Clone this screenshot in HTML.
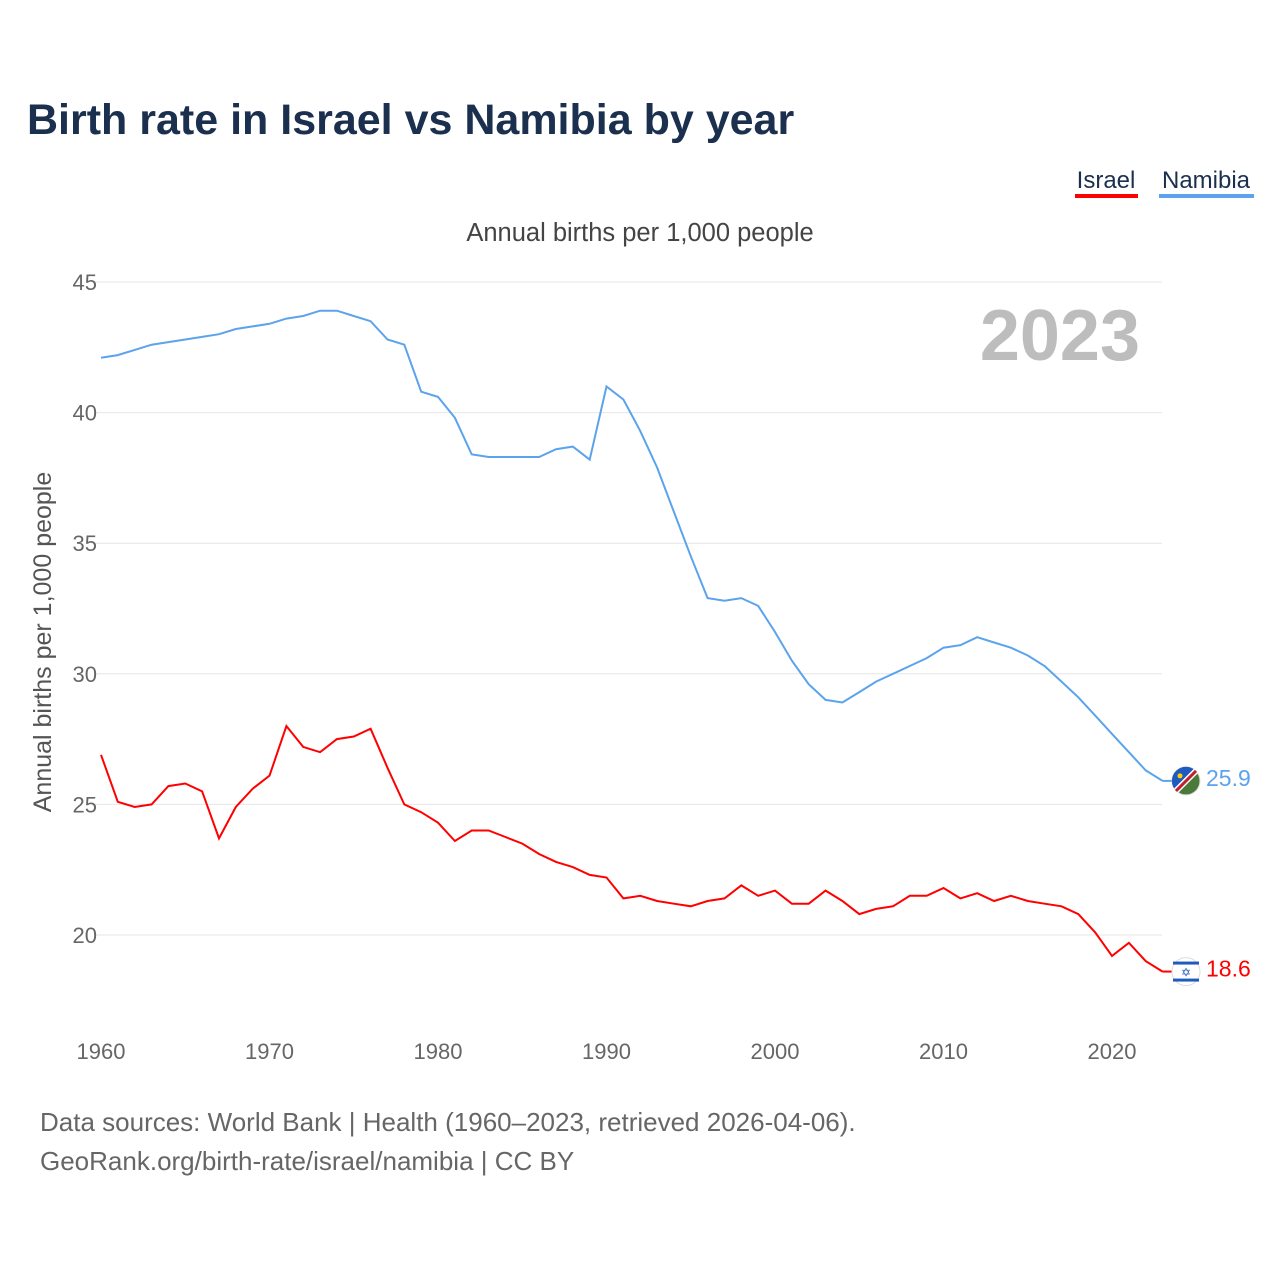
<!DOCTYPE html>
<html><head><meta charset="utf-8">
<style>
body{margin:0;background:#fff;font-family:"Liberation Sans",sans-serif;}
#wrap{position:relative;width:1280px;height:1280px;overflow:hidden;}
</style></head>
<body>
<div id="wrap">
<svg id="chart" width="1280" height="1280">
<text x="27" y="134" font-size="43" font-weight="bold" fill="#1b2f4e">Birth rate in Israel vs Namibia by year</text>
<g>
<text x="1106" y="188" font-size="24" fill="#1b2f4e" text-anchor="middle">Israel</text>
<rect x="1075" y="194" width="63" height="4" fill="#ff0000"/></g>
<g>
<text x="1206" y="188" font-size="24" fill="#1b2f4e" text-anchor="middle">Namibia</text>
<rect x="1159" y="194" width="95" height="4" fill="#5ba3ec"/></g>
<text x="640" y="241" font-size="25.5" fill="#444" text-anchor="middle">Annual births per 1,000 people</text>
<text x="1140" y="360" font-size="72" font-weight="bold" fill="#bdbdbd" text-anchor="end">2023</text>
<text transform="translate(51,642) rotate(-90)" font-size="25" fill="#555" text-anchor="middle">Annual births per 1,000 people</text>
<g id="grid"></g><g id="lines"></g><g id="labels"></g>
<text x="40" y="1131" font-size="26" fill="#666">Data sources: World Bank | Health (1960–2023, retrieved 2026-04-06).</text>
<text x="40" y="1170" font-size="26" fill="#666">GeoRank.org/birth-rate/israel/namibia | CC BY</text>
</svg>
</div>
<script>
const years=[];for(let y=1960;y<=2023;y++)years.push(y);
const israel=[26.9,25.1,24.9,25.0,25.7,25.8,25.5,23.7,24.9,25.6,26.1,28.0,27.2,27.0,27.5,27.6,27.9,26.4,25.0,24.7,24.3,23.6,24.0,24.0,23.75,23.5,23.1,22.8,22.6,22.3,22.2,21.4,21.5,21.3,21.2,21.1,21.3,21.4,21.9,21.5,21.7,21.2,21.2,21.7,21.3,20.8,21.0,21.1,21.5,21.5,21.8,21.4,21.6,21.3,21.5,21.3,21.2,21.1,20.8,20.1,19.2,19.7,19.0,18.6];
const namibia=[42.1,42.2,42.4,42.6,42.7,42.8,42.9,43.0,43.2,43.3,43.4,43.6,43.7,43.9,43.9,43.7,43.5,42.8,42.6,40.8,40.6,39.8,38.4,38.3,38.3,38.3,38.3,38.6,38.7,38.2,41.0,40.5,39.3,37.9,36.2,34.5,32.9,32.8,32.9,32.6,31.6,30.5,29.6,29.0,28.9,29.3,29.7,30.0,30.3,30.6,31.0,31.1,31.4,31.2,31.0,30.7,30.3,29.7,29.1,28.4,27.7,27.0,26.3,25.9];
const yTicks=[20,25,30,35,40,45];
const xTicks=[1960,1970,1980,1990,2000,2010,2020];
const NS="http://www.w3.org/2000/svg";
const xS=v=>101+(v-1960)*(1011/60);
const yS=v=>935-(v-20)*(653/25);
function mk(tag,attrs,parent){const e=document.createElementNS(NS,tag);for(const k in attrs)e.setAttribute(k,attrs[k]);parent.appendChild(e);return e;}
const grid=document.getElementById('grid'),lines=document.getElementById('lines'),labels=document.getElementById('labels');
yTicks.forEach(t=>{
 const l=mk('line',{x1:95,x2:1162,y1:yS(t),y2:yS(t),stroke:'#e6e6e6','stroke-width':1},grid);
 
 
 const tx=mk('text',{x:97,y:yS(t)+8,'font-size':22,fill:'#666','text-anchor':'end'},grid);tx.textContent=t;
 
 
});
xTicks.forEach(t=>{
 const tx=mk('text',{x:xS(t),y:1059,'font-size':22,fill:'#666','text-anchor':'middle'},grid);tx.textContent=t;
 
 
});
function series(data,color,name){
 const d=data.map((v,i)=>(i?'L':'M')+xS(years[i]).toFixed(1)+','+yS(v).toFixed(1)).join('');
 const p=mk('path',{d:d,fill:'none',stroke:color,'stroke-width':2},lines);
 
 
 const last=data[data.length-1],ly=yS(last);
 mk('line',{x1:xS(2023),x2:1175,y1:ly,y2:ly,stroke:color,'stroke-width':2},lines);
 const c=mk('circle',{cx:1186,cy:ly,r:14,fill:name==='israel'?'#fff':'#4a7a3a',stroke:'#ddd','stroke-width':1},labels);
 
 
 if(name==='israel'){mk('rect',{x:1173,y:ly-10,width:26,height:3,fill:'#1f5bbf'},labels);mk('rect',{x:1173,y:ly+7,width:26,height:3,fill:'#1f5bbf'},labels);
  const s=mk('text',{x:1186,y:ly+5,'font-size':12,fill:'#1f5bbf','text-anchor':'middle'},labels);s.textContent='✡';}
 else{mk('path',{d:`M1176,${ly+10} A14,14 0 0 1 1196,${ly-10} Z`,fill:'#1f5bbf'},labels);mk('line',{x1:1176,y1:ly+10,x2:1196,y2:ly-10,stroke:'#fff','stroke-width':6},labels);mk('line',{x1:1176,y1:ly+10,x2:1196,y2:ly-10,stroke:'#c0202b','stroke-width':3},labels);mk('circle',{cx:1180,cy:ly-5,r:2.5,fill:'#ffce00'},labels);}
 const t=mk('text',{x:1206,y:ly+5,'font-size':23,fill:color},labels);t.textContent=last.toFixed(1);
 
 
}
series(namibia,'#5ba3ec','namibia');
series(israel,'#ff0000','israel');
</script>
</body></html>
